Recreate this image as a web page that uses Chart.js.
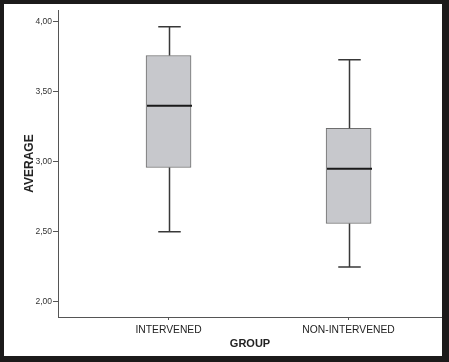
<!DOCTYPE html>
<html>
<head>
<meta charset="utf-8">
<script src="https://cdn.jsdelivr.net/npm/chart.js@4/dist/chart.umd.min.js"></script>
<style>
  html, body { margin: 0; padding: 0; background: #fff; }
  #frame {
    box-sizing: border-box;
    width: 449px; height: 362px;
    border-style: solid; border-color: #1c1a1a;
    border-width: 4px 7px 6px 4px;
    background: #fff;
  }
  #wrap { position: relative; width: 438px; height: 352px; }
</style>
</head>
<body>
<div id="frame"><div id="wrap"><canvas id="boxChart"></canvas></div></div>
<script>
// groups and their five-number summaries
const groups = ["INTERVENED", "NON-INTERVENED"];
const groupPos = [1, 2];
const mins = [2.50, 2.25];
const q1s = [2.96, 2.56];
const medians = [3.40, 2.95];
const q3s = [3.76, 3.24];
const maxs = [3.965, 3.73];
const yTicks = [2.00, 2.50, 3.00, 3.50, 4.00];

const BOX_W = 45;

// whiskers, caps and medians drawn on top of the floating bars
const whiskerPlugin = {
  id: "whiskers",
  afterDatasetsDraw(chart) {
    const ctx = chart.ctx;
    const xs = chart.scales.x, ys = chart.scales.y;
    ctx.save();
    groupPos.forEach(function (g, i) {
      const cx = Math.round(xs.getPixelForValue(g)) + 0.5;
      const yMin = ys.getPixelForValue(mins[i]);
      const yQ1 = ys.getPixelForValue(q1s[i]);
      const yQ3 = ys.getPixelForValue(q3s[i]);
      const yMax = ys.getPixelForValue(maxs[i]);
      const yMed = ys.getPixelForValue(medians[i]);
      ctx.strokeStyle = "#383838";
      ctx.lineWidth = 1.5;
      ctx.beginPath();
      ctx.moveTo(cx, yQ3); ctx.lineTo(cx, yMax);
      ctx.moveTo(cx, yQ1); ctx.lineTo(cx, yMin);
      ctx.moveTo(cx - BOX_W / 4, yMax); ctx.lineTo(cx + BOX_W / 4, yMax);
      ctx.moveTo(cx - BOX_W / 4, yMin); ctx.lineTo(cx + BOX_W / 4, yMin);
      ctx.stroke();
      ctx.strokeStyle = "#1a1a1a";
      ctx.lineWidth = 2;
      ctx.beginPath();
      ctx.moveTo(cx - BOX_W / 2, yMed); ctx.lineTo(cx + BOX_W / 2, yMed);
      ctx.stroke();
    });
    ctx.restore();
  }
};

new Chart(document.getElementById("boxChart"), {
  type: "bar",
  data: {
    datasets: [{
      data: groupPos.map(function (g, i) { return { x: g, y: [q1s[i], q3s[i]] }; }),
      backgroundColor: "#c7c8cc",
      borderColor: "#6e6e6e",
      borderWidth: 1,
      borderSkipped: false,
      barThickness: BOX_W
    }]
  },
  options: {
    responsive: true,
    maintainAspectRatio: false,
    animation: false,
    layout: { padding: 0 },
    plugins: { legend: { display: false }, tooltip: { enabled: false } },
    scales: {
      x: {
        type: "linear",
        offset: false,
        min: 0.386,
        max: 2.519,
        afterBuildTicks: function (s) { s.ticks = groupPos.map(function (v) { return { value: v }; }); },
        afterFit: function (s) { s.height = 39; },
        ticks: {
          callback: function (v) { return groups[groupPos.indexOf(v)] || ""; },
          color: "#222",
          font: { family: "Liberation Sans, Arial", size: 10.3 },
          padding: 4,
          maxRotation: 0
        },
        grid: { offset: false, drawOnChartArea: false, tickLength: 3, color: "#555" },
        border: { display: true, color: "#555", width: 1 },
        title: {
          display: true,
          text: "GROUP",
          color: "#222",
          font: { family: "Liberation Sans, Arial", size: 11, weight: "bold" },
          padding: { top: 0, bottom: 5.4 }
        }
      },
      y: {
        min: 1.892,
        max: 4.084,
        afterBuildTicks: function (s) { s.ticks = yTicks.map(function (v) { return { value: v }; }); },
        afterFit: function (s) { s.width = 54; },
        ticks: {
          callback: function (v) { return v.toFixed(2).replace(".", ","); },
          color: "#333",
          font: { family: "Liberation Sans, Arial", size: 8.5 },
          padding: 1
        },
        grid: { drawOnChartArea: false, tickLength: 5, color: "#555" },
        border: { display: true, color: "#555", width: 1 },
        title: {
          display: true,
          text: "AVERAGE",
          color: "#222",
          font: { family: "Liberation Sans, Arial", size: 12, weight: "bold" },
          padding: { top: 18.8, bottom: 0 }
        }
      }
    }
  },
  plugins: [whiskerPlugin]
});
</script>
</body>
</html>
